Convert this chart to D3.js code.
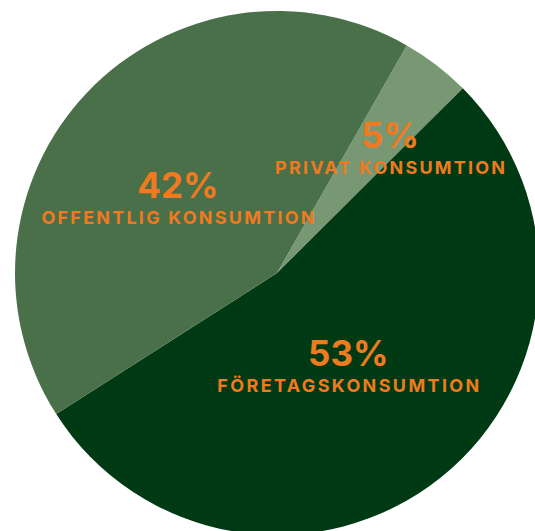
<!DOCTYPE html>
<html><head><meta charset="utf-8">
<script src="https://cdn.jsdelivr.net/npm/d3@7"></script>
<style>html,body{margin:0;padding:0;background:#fff;}svg{display:block;}</style>
</head><body>
<svg id="chart" width="535" height="531"></svg>
<script>
// Data (order clockwise, starting at the top-right)
const categories = ["PRIVAT KONSUMTION", "FÖRETAGSKONSUMTION", "OFFENTLIG KONSUMTION"];
const values = [4.3, 53.4, 42.3];
const valueLabels = ["5%", "53%", "42%"];

// Styles / layout
const colors = ["#779873", "#003a14", "#4a7049"];
const textColor = "#ef7a1f";
const cx = 277, cy = 273, radius = 262;
const startAngleDeg = 29.7;
// label anchor: [angle (deg, clockwise from north), distance from centre, label width]
const labelLayout = [
  {angle: 42.6, dist: 167, width: 230},
  {angle: 143.2, dist: 119, width: 262},
  {angle: 306.4, dist: 123, width: 273}
];

const svg = d3.select("#chart");
const g = svg.append("g").attr("transform", `translate(${cx},${cy})`);

const start = startAngleDeg * Math.PI / 180;
const pie = d3.pie().sort(null).value(d => d)
  .startAngle(start).endAngle(start + 2 * Math.PI);
const arcs = pie(values);
const arc = d3.arc().innerRadius(0).outerRadius(radius);

g.selectAll("path.slice").data(arcs).enter().append("path")
  .attr("class", "slice")
  .attr("d", arc)
  .attr("fill", (d, i) => colors[i]);

const labels = g.selectAll("g.label").data(arcs).enter().append("g")
  .attr("class", "label")
  .attr("transform", (d, i) => {
    const L = labelLayout[i];
    const a = L.angle * Math.PI / 180;
    return `translate(${Math.sin(a) * L.dist},${-Math.cos(a) * L.dist})`;
  });

labels.append("text")
  .attr("text-anchor", "middle")
  .attr("y", -2)
  .attr("font-family", "Inter, 'DejaVu Sans', sans-serif")
  .attr("font-weight", 700)
  .attr("font-size", 35)
  .attr("fill", textColor)
  .text((d, i) => valueLabels[i]);

labels.append("text")
  .attr("text-anchor", "middle")
  .attr("y", 24)
  .attr("font-family", "Inter, 'DejaVu Sans', sans-serif")
  .attr("font-weight", 700)
  .attr("font-size", 18)
  .attr("fill", textColor)
  .attr("textLength", (d, i) => labelLayout[i].width)
  .attr("lengthAdjust", "spacing")
  .text((d, i) => categories[i]);
</script>
</body></html>
